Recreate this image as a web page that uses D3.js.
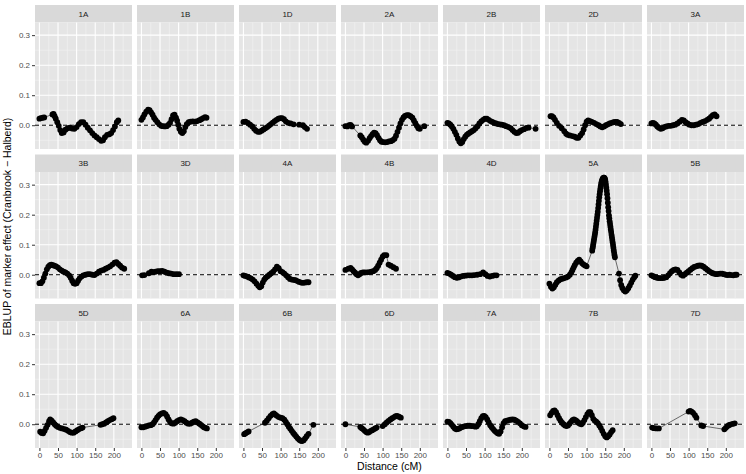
<!DOCTYPE html>
<meta charset="utf-8">
<style>
body {
	margin: 0;
	background-color: #ffffff;
	font-family: "Liberation Sans", Arial, sans-serif;
}
.axis text {
	font-size: 8px;
	fill: #4d4d4d;
}
.axis line {
	stroke: #333;
}
</style>
<body>
<script src="https://cdnjs.cloudflare.com/ajax/libs/d3/7.8.5/d3.min.js"></script>
<script>
// [distance cM, EBLUP of marker effect]
var d1A = [[0,0.022],[4,0.024],[9,0.025],[13,0.026],[35,0.036],[38,0.038],[41,0.03],[44,0.022],[48,0.01],[52,-0.002],[56,-0.016],[60,-0.026],[65,-0.024],[70,-0.015],[76,-0.01],[82,-0.008],[88,-0.011],[94,-0.012],[100,-0.006],[106,0.004],[112,0.01],[118,0.01],[124,0.002],[130,-0.008],[136,-0.017],[142,-0.026],[148,-0.034],[154,-0.04],[160,-0.046],[166,-0.052],[171,-0.05],[176,-0.04],[182,-0.032],[188,-0.03],[193,-0.026],[198,-0.016],[203,-0.004],[208,0.01],[212,0.016]];
var d1B = [[0,0.018],[4,0.026],[8,0.036],[13,0.045],[18,0.052],[22,0.05],[26,0.043],[30,0.035],[34,0.025],[38,0.018],[43,0.01],[48,0.003],[53,-0.002],[58,-0.003],[63,-0.004],[68,-0.003],[73,0.002],[77,0.008],[81,0.02],[85,0.033],[89,0.035],[93,0.025],[96,0.015],[99,0.002],[102,-0.012],[106,-0.022],[110,-0.026],[114,-0.02],[118,-0.006],[122,0.004],[127,0.01],[132,0.012],[138,0.013],[144,0.012],[150,0.014],[156,0.017],[161,0.02],[166,0.024],[171,0.027],[175,0.025]];
var d1D = [[0,0.011],[6,0.012],[12,0.008],[18,0.002],[24,-0.004],[29,-0.012],[34,-0.018],[39,-0.022],[44,-0.022],[49,-0.018],[54,-0.014],[59,-0.01],[64,-0.006],[69,-0.001],[74,0.004],[79,0.009],[84,0.014],[89,0.018],[94,0.022],[99,0.024],[104,0.024],[109,0.02],[114,0.013],[120,0.008],[127,0.006],[135,0.003],[150,0.002],[160,0.0],[165,-0.006],[171,-0.012]];
var d2A = [[0,-0.003],[5,-0.004],[10,0.0],[14,0.001],[18,-0.004],[40,-0.034],[44,-0.04],[48,-0.048],[52,-0.055],[56,-0.058],[61,-0.052],[65,-0.043],[69,-0.036],[73,-0.03],[77,-0.025],[81,-0.026],[85,-0.033],[89,-0.042],[93,-0.05],[97,-0.055],[102,-0.056],[107,-0.057],[112,-0.056],[117,-0.054],[122,-0.053],[127,-0.05],[132,-0.045],[136,-0.035],[140,-0.022],[144,-0.008],[148,0.006],[152,0.018],[156,0.026],[160,0.031],[165,0.034],[170,0.034],[175,0.03],[180,0.025],[184,0.016],[188,0.007],[192,-0.002],[196,-0.01],[200,-0.012],[212,-0.003]];
var d2B = [[0,0.008],[4,0.006],[8,0.002],[12,-0.004],[16,-0.012],[20,-0.022],[24,-0.032],[28,-0.044],[32,-0.054],[36,-0.06],[40,-0.056],[44,-0.046],[48,-0.038],[52,-0.032],[56,-0.028],[61,-0.024],[66,-0.02],[71,-0.016],[76,-0.01],[81,-0.003],[86,0.006],[91,0.013],[96,0.018],[101,0.022],[106,0.022],[111,0.018],[116,0.014],[121,0.011],[126,0.008],[131,0.006],[136,0.004],[141,0.003],[146,0.002],[152,0.0],[158,-0.003],[164,-0.006],[170,-0.01],[175,-0.016],[180,-0.022],[185,-0.026],[190,-0.025],[195,-0.02],[200,-0.016],[206,-0.013],[212,-0.009],[218,-0.008],[237,-0.012]];
var d2D = [[3,0.03],[7,0.03],[11,0.026],[15,0.018],[20,0.008],[26,-0.002],[33,-0.01],[40,-0.02],[45,-0.028],[49,-0.032],[55,-0.034],[62,-0.036],[68,-0.038],[73,-0.042],[78,-0.042],[83,-0.034],[88,-0.026],[92,-0.014],[96,0.0],[100,0.012],[104,0.016],[109,0.014],[114,0.011],[120,0.008],[126,0.004],[132,0.0],[137,-0.004],[142,-0.007],[147,-0.004],[152,0.0],[157,0.003],[162,0.006],[167,0.008],[172,0.01],[177,0.011],[182,0.011],[187,0.008],[192,0.004]];
var d3A = [[0,0.006],[4,0.008],[8,0.006],[12,0.002],[16,-0.004],[20,-0.008],[25,-0.012],[30,-0.01],[35,-0.006],[40,-0.004],[46,-0.002],[52,-0.002],[58,0.0],[64,0.002],[70,0.006],[76,0.012],[82,0.018],[87,0.016],[92,0.01],[97,0.006],[102,0.002],[108,0.0],[114,0.0],[120,0.002],[126,0.004],[132,0.008],[138,0.011],[144,0.014],[150,0.018],[155,0.022],[160,0.028],[165,0.034],[170,0.036],[175,0.03]];
var d3B = [[0,-0.028],[4,-0.028],[8,-0.022],[12,-0.01],[16,0.004],[20,0.018],[24,0.027],[28,0.032],[32,0.034],[36,0.032],[40,0.03],[45,0.028],[50,0.024],[55,0.018],[60,0.014],[65,0.01],[70,0.008],[75,0.004],[80,-0.002],[84,-0.01],[88,-0.02],[92,-0.028],[96,-0.03],[100,-0.028],[104,-0.02],[108,-0.012],[113,-0.006],[118,-0.002],[124,0.0],[130,0.002],[136,0.002],[142,0.0],[148,-0.001],[154,0.004],[160,0.01],[166,0.014],[172,0.016],[178,0.02],[184,0.024],[190,0.028],[196,0.034],[202,0.04],[207,0.042],[212,0.036],[217,0.03],[222,0.024],[228,0.02]];
var d3D = [[2,-0.002],[8,-0.001],[20,0.005],[27,0.01],[32,0.009],[38,0.01],[44,0.012],[50,0.012],[56,0.013],[62,0.01],[68,0.007],[74,0.005],[80,0.004],[87,0.002],[94,0.002],[101,0.002]];
var d4A = [[0,-0.002],[5,-0.004],[10,-0.006],[15,-0.009],[20,-0.012],[25,-0.016],[30,-0.022],[35,-0.03],[40,-0.037],[44,-0.042],[48,-0.038],[52,-0.026],[56,-0.016],[60,-0.01],[65,-0.005],[70,0.0],[75,0.005],[80,0.01],[85,0.018],[90,0.027],[95,0.022],[100,0.012],[105,0.009],[110,0.004],[115,-0.002],[120,-0.008],[125,-0.014],[130,-0.016],[135,-0.017],[140,-0.018],[145,-0.021],[150,-0.024],[155,-0.026],[160,-0.027],[165,-0.026],[170,-0.025],[175,-0.025]];
var d4B = [[0,0.016],[8,0.02],[14,0.023],[18,0.018],[22,0.012],[26,0.007],[30,0.002],[34,-0.002],[38,0.002],[42,0.006],[47,0.008],[52,0.008],[58,0.008],[64,0.009],[70,0.01],[75,0.012],[80,0.016],[84,0.022],[88,0.03],[92,0.04],[96,0.05],[100,0.06],[104,0.065],[110,0.065],[116,0.034],[122,0.03],[129,0.025],[136,0.02]];
var d4D = [[0,0.006],[5,0.004],[10,0.0],[15,-0.004],[20,-0.008],[25,-0.01],[30,-0.009],[36,-0.006],[42,-0.004],[48,-0.003],[54,-0.002],[60,-0.002],[66,-0.002],[72,-0.001],[80,0.0],[88,0.002],[96,0.008],[102,0.002],[108,-0.004],[114,-0.006],[120,-0.004],[126,-0.002],[132,-0.002]];
var d5A = [[0,-0.03],[4,-0.04],[8,-0.046],[12,-0.042],[16,-0.033],[20,-0.025],[25,-0.019],[30,-0.015],[35,-0.013],[40,-0.011],[45,-0.009],[50,-0.006],[55,0.0],[59,0.008],[62,0.016],[65,0.024],[68,0.032],[72,0.04],[76,0.046],[80,0.05],[84,0.044],[88,0.038],[92,0.034],[96,0.031],[100,0.028],
	[115,0.08],[116,0.088],[117,0.095],[118,0.103],[119,0.11],[120,0.118],[121,0.126],[122,0.133],[123,0.141],[124,0.15],[125,0.16],[126,0.17],[127,0.18],[128,0.19],[129,0.2],[130,0.21],[131,0.222],[132,0.234],[133,0.246],[134,0.258],[135,0.268],[136,0.278],[137,0.287],[138,0.295],[139,0.302],[140,0.308],[141,0.312],[142,0.316],[143,0.319],[144,0.321],[145,0.322],[146,0.323],[147,0.323],[148,0.322],[149,0.32],[150,0.316],[151,0.309],[152,0.3],[153,0.29],[154,0.28],[155,0.268],[156,0.255],[157,0.24],[158,0.225],[159,0.212],[160,0.198],[161,0.188],[162,0.178],[163,0.169],[164,0.16],[165,0.151],[166,0.142],[167,0.133],[168,0.125],[169,0.116],[170,0.108],[171,0.099],[172,0.09],[173,0.081],[174,0.072],[175,0.065],[176,0.058],
	[187,0.004],[190,-0.018],[193,-0.034],[196,-0.044],[200,-0.052],[204,-0.056],[208,-0.052],[212,-0.045],[216,-0.036],[220,-0.026],[224,-0.016],[228,-0.008],[231,-0.003]];
var d5B = [[0,-0.002],[5,-0.005],[10,-0.008],[15,-0.01],[20,-0.011],[25,-0.011],[30,-0.011],[35,-0.01],[40,-0.008],[45,-0.002],[50,0.005],[55,0.012],[60,0.016],[65,0.018],[70,0.016],[75,0.008],[80,0.0],[85,-0.003],[90,0.002],[95,0.007],[100,0.012],[105,0.017],[110,0.022],[115,0.026],[120,0.028],[125,0.03],[130,0.031],[135,0.03],[140,0.027],[145,0.022],[150,0.017],[155,0.012],[160,0.008],[165,0.005],[170,0.003],[175,0.002],[180,0.003],[185,0.004],[190,0.004],[195,0.002],[200,0.0],[205,-0.001],[210,0.0],[215,-0.001],[220,-0.002],[225,0.0],[229,0.0]];
var d5D = [[2,-0.025],[6,-0.029],[10,-0.03],[14,-0.022],[18,-0.012],[22,-0.002],[26,0.01],[29,0.016],[33,0.012],[37,0.006],[41,0.0],[45,-0.005],[50,-0.009],[55,-0.012],[61,-0.014],[67,-0.016],[72,-0.018],[77,-0.022],[82,-0.026],[87,-0.028],[92,-0.028],[97,-0.024],[102,-0.02],[107,-0.016],[112,-0.013],[116,-0.011],[164,-0.002],[169,0.0],[174,0.002],[179,0.006],[184,0.01],[189,0.014],[194,0.017],[199,0.02]];
var d6A = [[0,-0.01],[5,-0.01],[10,-0.008],[15,-0.006],[20,-0.004],[25,-0.003],[30,0.0],[34,0.006],[38,0.014],[42,0.022],[46,0.028],[50,0.033],[55,0.036],[60,0.038],[65,0.034],[69,0.026],[73,0.016],[77,0.008],[81,0.003],[86,0.002],[91,0.005],[96,0.01],[101,0.014],[106,0.016],[111,0.014],[116,0.01],[121,0.005],[126,0.002],[131,0.002],[136,0.005],[141,0.009],[146,0.01],[151,0.006],[156,0.002],[160,-0.002],[164,-0.006],[168,-0.01],[172,-0.012],[176,-0.014]];
var d6B = [[2,-0.033],[6,-0.03],[10,-0.027],[14,-0.024],[58,0.005],[63,0.012],[68,0.02],[73,0.028],[78,0.034],[82,0.036],[86,0.032],[90,0.028],[95,0.024],[100,0.022],[105,0.02],[110,0.015],[114,0.008],[118,0.0],[122,-0.008],[126,-0.015],[130,-0.022],[134,-0.029],[138,-0.035],[142,-0.041],[146,-0.047],[150,-0.052],[154,-0.055],[158,-0.056],[162,-0.053],[166,-0.047],[170,-0.04],[175,-0.032],[188,-0.002]];
var d6D = [[0,0.0],[40,-0.009],[44,-0.013],[48,-0.017],[52,-0.022],[56,-0.026],[60,-0.028],[64,-0.026],[68,-0.022],[72,-0.02],[76,-0.017],[80,-0.014],[84,-0.011],[100,-0.006],[106,0.0],[111,0.006],[116,0.011],[121,0.016],[126,0.02],[131,0.024],[135,0.027],[139,0.028],[144,0.025],[149,0.022]];
var d7A = [[0,0.009],[4,0.008],[8,0.004],[12,-0.002],[16,-0.008],[20,-0.014],[24,-0.017],[28,-0.016],[32,-0.014],[36,-0.011],[40,-0.009],[45,-0.007],[50,-0.006],[55,-0.005],[60,-0.005],[65,-0.006],[70,-0.006],[75,-0.008],[79,-0.007],[83,0.0],[87,0.01],[91,0.02],[95,0.027],[99,0.028],[103,0.024],[107,0.016],[111,0.006],[115,-0.003],[119,-0.01],[123,-0.016],[127,-0.022],[131,-0.026],[135,-0.03],[139,-0.032],[143,-0.024],[147,-0.01],[151,0.004],[155,0.01],[160,0.012],[165,0.014],[170,0.015],[175,0.016],[180,0.015],[185,0.012],[190,0.008],[195,0.003],[200,-0.003],[205,-0.007],[210,-0.009]];
var d7B = [[2,0.03],[6,0.038],[10,0.044],[14,0.046],[18,0.04],[22,0.03],[26,0.02],[30,0.012],[34,0.005],[38,0.0],[42,-0.004],[46,-0.006],[50,-0.004],[54,0.002],[58,0.008],[62,0.014],[66,0.016],[70,0.014],[74,0.01],[78,0.005],[82,0.002],[86,0.0],[90,0.005],[94,0.014],[98,0.024],[102,0.034],[106,0.04],[110,0.04],[114,0.03],[118,0.018],[122,0.012],[126,0.009],[130,0.004],[134,-0.004],[138,-0.012],[142,-0.022],[146,-0.032],[150,-0.04],[154,-0.044],[158,-0.04],[162,-0.034],[166,-0.026],[170,-0.02]];
var d7D = [[2,-0.011],[7,-0.013],[13,-0.014],[20,-0.014],[100,0.042],[104,0.044],[108,0.042],[112,0.038],[117,0.03],[121,0.022],[134,-0.004],[139,-0.006],[196,-0.017],[200,-0.012],[204,-0.007],[208,-0.003],[212,-0.001],[218,0.001],[224,0.003]];

var chromosomes = ["1A","1B","1D","2A","2B","2D","3A","3B","3D","4A","4B","4D","5A","5B","5D","6A","6B","6D","7A","7B","7D"];
var panelData = [d1A,d1B,d1D,d2A,d2B,d2D,d3A,d3B,d3D,d4A,d4B,d4D,d5A,d5B,d5D,d6A,d6B,d6D,d7A,d7B,d7D];

var xMajor = [0, 50, 100, 150, 200];
var xMinor = [25, 75, 125, 175, 225];
var yMajor = [0, 0.1, 0.2, 0.3];
var yMinor = [-0.05, 0.05, 0.15, 0.25];

var xTitle = "Distance (cM)";
var yTitle = "EBLUP of marker effect (Cranbrook \u2212 Halberd)";

var width = 746, height = 474;
var padL = 35, padR = 744, padT = 5;
var ncol = 7, gapX = 5, gapY = 5.5;
var stripH = 17.5, panelH = 126.5;
var panelW = (padR - padL - gapX * (ncol - 1)) / ncol;
var nrow = Math.ceil(chromosomes.length / ncol);
var gridBottom = padT + nrow * (stripH + panelH) + (nrow - 1) * gapY;

// shared scales, ggplot-like 5% expansion
var allPts = d3.merge(panelData);
var xExt = d3.extent(allPts, function(d) { return d[0]; });
var yExt = d3.extent(allPts, function(d) { return d[1]; });
var xPad = (xExt[1] - xExt[0]) * 0.05, yPad = (yExt[1] - yExt[0]) * 0.05;

var x = d3.scaleLinear().domain([xExt[0] - xPad, xExt[1] + xPad]).range([0, panelW]);
var y = d3.scaleLinear().domain([yExt[0] - yPad, yExt[1] + yPad]).range([panelH, 0]);

var svg = d3.select("body").append("svg")
	.attr("width", width)
	.attr("height", height);

svg.append("rect").attr("width", width).attr("height", height).attr("fill", "#fff");

var curve = d3.line()
	.x(function(d) { return x(d[0]); })
	.y(function(d) { return y(d[1]); });

chromosomes.forEach(function(chr, i) {
	var col = i % ncol, row = Math.floor(i / ncol);
	var px = padL + col * (panelW + gapX);
	var py = padT + row * (stripH + panelH + gapY);

	var strip = svg.append("g").attr("transform", "translate(" + px + "," + py + ")");
	strip.append("rect")
		.attr("width", panelW)
		.attr("height", stripH)
		.attr("fill", "#d9d9d9");
	strip.append("text")
		.attr("x", panelW / 2)
		.attr("y", stripH / 2)
		.attr("dy", "0.35em")
		.attr("text-anchor", "middle")
		.style("font-size", "8px")
		.style("fill", "#1a1a1a")
		.text(chr);

	var g = svg.append("g").attr("transform", "translate(" + px + "," + (py + stripH) + ")");
	g.append("rect")
		.attr("width", panelW)
		.attr("height", panelH)
		.attr("fill", "#e5e5e5");

	// minor grid
	g.selectAll(".vmin").data(xMinor.filter(function(v) { return v <= x.domain()[1]; })).enter().append("line")
		.attr("x1", x).attr("x2", x).attr("y1", 0).attr("y2", panelH)
		.attr("stroke", "#f4f4f4").attr("stroke-width", 0.6);
	g.selectAll(".hmin").data(yMinor).enter().append("line")
		.attr("x1", 0).attr("x2", panelW).attr("y1", y).attr("y2", y)
		.attr("stroke", "#f4f4f4").attr("stroke-width", 0.6);
	// major grid
	g.selectAll(".vmaj").data(xMajor).enter().append("line")
		.attr("x1", x).attr("x2", x).attr("y1", 0).attr("y2", panelH)
		.attr("stroke", "#fff").attr("stroke-width", 1.1);
	g.selectAll(".hmaj").data(yMajor).enter().append("line")
		.attr("x1", 0).attr("x2", panelW).attr("y1", y).attr("y2", y)
		.attr("stroke", "#fff").attr("stroke-width", 1.1);

	// zero reference
	g.append("line")
		.attr("x1", 0).attr("x2", panelW)
		.attr("y1", y(0)).attr("y2", y(0))
		.attr("stroke", "#000")
		.attr("stroke-width", 1)
		.attr("stroke-dasharray", "4,3");

	var data = panelData[i];
	g.append("path")
		.datum(data)
		.attr("d", curve)
		.attr("fill", "none")
		.attr("stroke", "#333")
		.attr("stroke-width", 0.7);

	g.selectAll("circle")
		.data(data)
		.enter().append("circle")
		.attr("cx", function(d) { return x(d[0]); })
		.attr("cy", function(d) { return y(d[1]); })
		.attr("r", 2.9)
		.attr("fill", "#000");

	if (col === 0) {
		var ya = g.append("g").attr("class", "axis")
			.call(d3.axisLeft(y).tickValues(yMajor).tickFormat(d3.format(".1f")).tickSize(3).tickPadding(2));
		ya.select(".domain").remove();
	}
	if (row === nrow - 1) {
		var xa = g.append("g").attr("class", "axis")
			.attr("transform", "translate(0," + panelH + ")")
			.call(d3.axisBottom(x).tickValues(xMajor).tickSize(3).tickPadding(1));
		xa.select(".domain").remove();
	}
});

svg.append("text")
	.attr("x", (padL + padR) / 2)
	.attr("y", 470)
	.attr("text-anchor", "middle")
	.style("font-size", "10.5px")
	.text(xTitle);

svg.append("text")
	.attr("transform", "translate(11," + ((padT + gridBottom) / 2) + ") rotate(-90)")
	.attr("text-anchor", "middle")
	.style("font-size", "10.5px")
	.text(yTitle);
</script>
</body>
